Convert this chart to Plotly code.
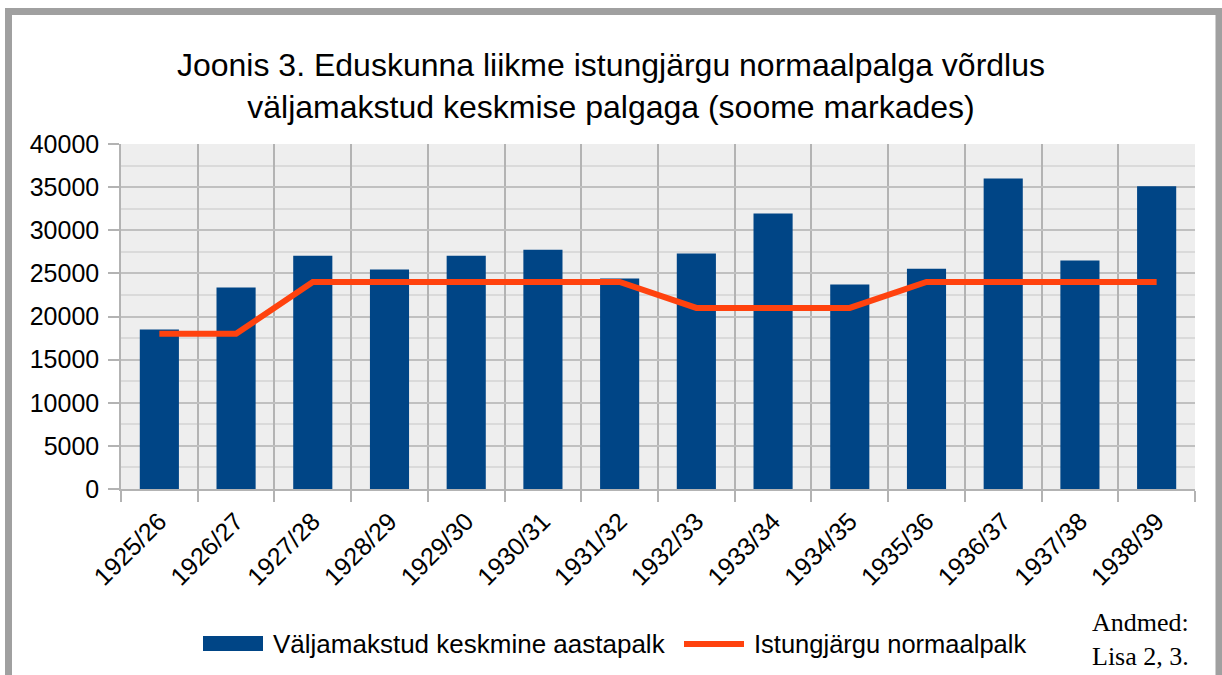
import plotly.graph_objects as go

categories = ["1925/26", "1926/27", "1927/28", "1928/29", "1929/30", "1930/31", "1931/32",
              "1932/33", "1933/34", "1934/35", "1935/36", "1936/37", "1937/38", "1938/39"]
avg_salary = [18500, 23350, 27050, 25450, 27050, 27750, 24400,
              27300, 31950, 23700, 25550, 36000, 26500, 35100]
normal_salary = [18000, 18000, 24000, 24000, 24000, 24000, 24000,
                 21000, 21000, 21000, 24000, 24000, 24000, 24000]
y_ticks = [0, 5000, 10000, 15000, 20000, 25000, 30000, 35000, 40000]
y_tick_labels = [str(v) for v in y_ticks]
bar_name = "Väljamakstud keskmine aastapalk"
line_name = "Istungjärgu normaalpalk"

BAR_COLOR = "#004586"
LINE_COLOR = "#ff420e"

W, H = 1222, 675
L, R, T, B = 121, 1195, 144, 489

def px(x):
    return (x - L) / (R - L)

def py(y):
    return (B - y) / (B - T)

fig = go.Figure()
fig.add_trace(go.Bar(x=categories, y=avg_salary, name=bar_name,
                     marker=dict(color=BAR_COLOR, line=dict(width=0))))
fig.add_trace(go.Scatter(x=categories, y=normal_salary, name=line_name,
                         mode="lines", line=dict(color=LINE_COLOR, width=6)))

fig.update_layout(
    width=W, height=H,
    margin=dict(l=L, r=W - R, t=T, b=H - B),
    paper_bgcolor="white",
    plot_bgcolor="#eeeeee",
    font=dict(family="Liberation Sans, Arial, sans-serif", size=24, color="black"),
    title=dict(text="Joonis 3. Eduskunna liikme istungjärgu normaalpalga võrdlus<br>väljamakstud keskmise palgaga (soome markades)",
               x=0.5, xref="container", xanchor="center",
               y=1 - 76 / H, yref="container", yanchor="top",
               font=dict(size=32, family="Liberation Sans, Arial, sans-serif")),
    bargap=0.49,
    showlegend=False,
    xaxis=dict(type="category", tickson="boundaries", ticks="outside", ticklen=11,
               tickcolor="#b3b3b3", tickwidth=1.5, showgrid=True, gridcolor="#b3b3b3",
               gridwidth=1.5, tickangle=-45, showline=True, linecolor="#b3b3b3", linewidth=1.5,
               range=[-0.5, len(categories) - 0.5], ticklabelstandoff=6, tickfont=dict(size=25)),
    yaxis=dict(range=[0, 40000], tickvals=y_ticks, ticktext=y_tick_labels, ticks="outside", ticklen=11,
               tickcolor="#b3b3b3", tickwidth=1.5, showgrid=True, gridcolor="#c0c0c0", gridwidth=1.5,
               minor=dict(dtick=2500, showgrid=True, gridcolor="#dadada", gridwidth=1.5),
               showline=True, linecolor="#b3b3b3", linewidth=1.5, zeroline=False,
               ticklabelstandoff=4, tickfont=dict(size=25)),
)

# outer frame
fig.add_shape(type="rect", xref="paper", yref="paper",
              x0=px(8.5), x1=px(1219), y0=py(11.5), y1=py(700),
              line=dict(color="#a0a0a0", width=7), fillcolor="rgba(0,0,0,0)", layer="above")

# legend (drawn manually to match the large swatches)
fig.add_shape(type="rect", xref="paper", yref="paper",
              x0=px(203), x1=px(263), y0=py(651), y1=py(636),
              line=dict(width=0), fillcolor=BAR_COLOR)
fig.add_annotation(text=bar_name, xref="paper", yref="paper", x=px(271), y=py(643.5),
                   xanchor="left", yanchor="middle", showarrow=False, font=dict(size=26))
fig.add_shape(type="line", xref="paper", yref="paper",
              x0=px(684), x1=px(744), y0=py(644), y1=py(644),
              line=dict(color=LINE_COLOR, width=6))
fig.add_annotation(text=line_name, xref="paper", yref="paper", x=px(752), y=py(643.5),
                   xanchor="left", yanchor="middle", showarrow=False, font=dict(size=25.5))

fig.add_annotation(text="Andmed:<br>Lisa 2, 3.", xref="paper", yref="paper",
                   x=px(1090), y=py(639), xanchor="left", yanchor="middle",
                   showarrow=False, align="left",
                   font=dict(family="Liberation Serif, Times New Roman, serif", size=26, color="black"))

fig.write_html("out.html")
